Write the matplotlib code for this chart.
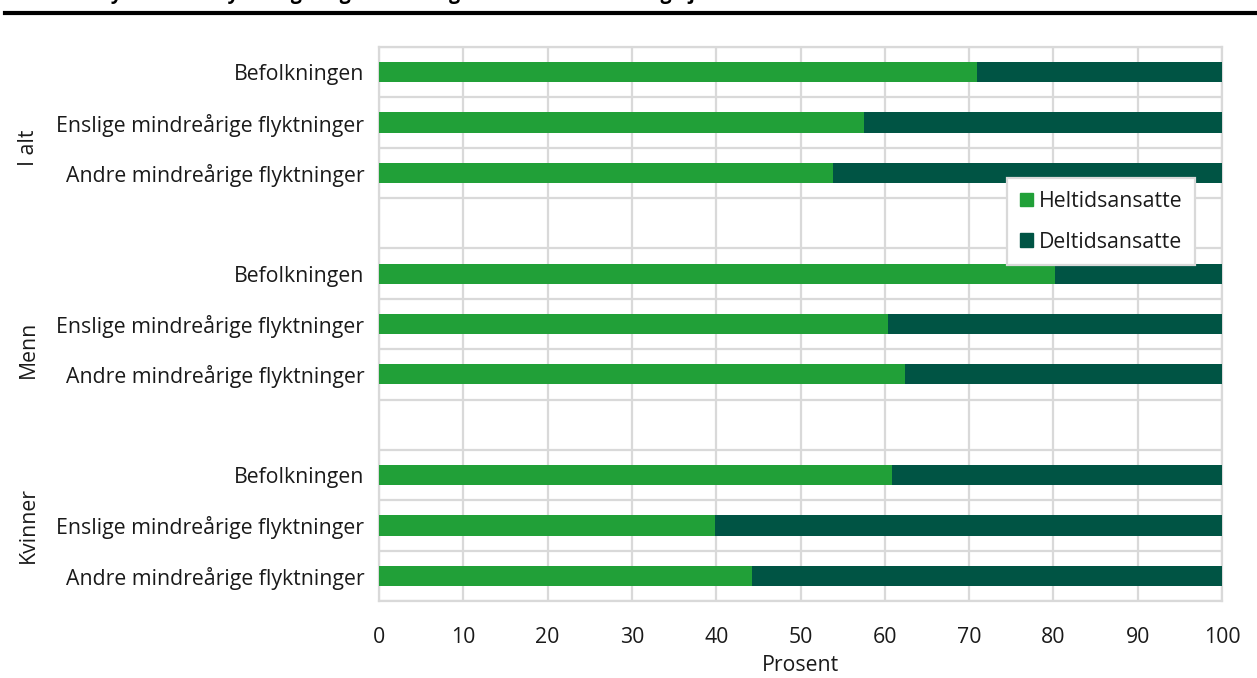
import numpy as np
import matplotlib
matplotlib.use("Agg")
import matplotlib.pyplot as plt
from matplotlib.patches import Rectangle
import matplotlib.transforms as mtransforms

plt.rcParams['font.family'] = ['Open Sans', 'DejaVu Sans']

# data (percent full-time; part-time is the rest)
groups = ["I alt", "Menn", "Kvinner"]
categories = ["Befolkningen", "Enslige mindreårige flyktninger", "Andre mindreårige flyktninger"]
heltid_ialt = [70.9, 57.5, 53.9]
heltid_menn = [80.2, 60.4, 62.4]
heltid_kvinner = [60.9, 39.9, 44.2]
series_names = ["Heltidsansatte", "Deltidsansatte"]
xticks = [0, 10, 20, 30, 40, 50, 60, 70, 80, 90, 100]

green = "#21a038"
dark = "#005444"
grid_c = "#d9d9d9"
txt_c = "#1a1a1a"
fs = 15.3

heltid_groups = [heltid_ialt, heltid_menn, heltid_kvinner]

# row positions: 3 rows per group with one empty row between groups
rows, labels, heltid = [], [], []
group_spans = []
r = 0
for gi, vals in enumerate(heltid_groups):
    start = r
    for cat, v in zip(categories, vals):
        rows.append(r); labels.append(cat); heltid.append(v)
        r += 1
    end = r if gi < len(heltid_groups) - 1 else r - 1
    group_spans.append((start, end))
    r += 1
nrows = r - 1
rows = np.array(rows)
heltid = np.array(heltid)
deltid = 100 - heltid

fig = plt.figure(figsize=(12.57, 6.78), dpi=100)
ax = fig.add_axes([379/1257, 1 - 601/678, (1222-379)/1257, (601-47)/678])

ax.barh(rows, heltid, height=0.4, color=green, zorder=3)
ax.barh(rows, deltid, left=heltid, height=0.4, color=dark, zorder=3)

ax.set_xlim(0, 100)
ax.set_ylim(nrows - 0.5, -0.5)
ax.set_xticks(xticks)
ax.set_yticks(rows)
ax.set_yticklabels(labels)
ax.set_yticks(np.arange(-0.5, nrows, 1.0), minor=True)
ax.tick_params(axis='both', which='both', length=0, labelsize=fs, colors=txt_c)
ax.tick_params(axis='y', pad=10.5)
ax.tick_params(axis='x', pad=18.5)
ax.grid(axis='x', which='major', color=grid_c, lw=1.6, zorder=0)
ax.grid(axis='y', which='minor', color=grid_c, lw=1.6, zorder=0)
ax.set_axisbelow(True)
for s in ax.spines.values():
    s.set_color(grid_c)
    s.set_linewidth(1.6)
ax.set_xlabel("Prosent", fontsize=fs, color=txt_c, labelpad=5)

# group labels on the left
trans = mtransforms.blended_transform_factory(fig.transFigure, ax.transData)
for g, (a, b) in zip(groups, group_spans):
    ax.text(28/1257, (a + b) / 2, g, transform=trans, rotation=90,
            ha='center', va='center', fontsize=fs, color=txt_c)

handles = [Rectangle((0, 0), 1, 1, color=green), Rectangle((0, 0), 1, 1, color=dark)]
leg = ax.legend(handles, series_names, loc='upper left',
                bbox_to_anchor=(1007/1257, 1 - 178/678), bbox_transform=fig.transFigure,
                borderaxespad=0, fontsize=fs, handlelength=0.6, handleheight=0.6,
                handletextpad=0.3, labelspacing=0.94, fancybox=False, framealpha=1,
                edgecolor=grid_c, borderpad=0.6)
leg.get_frame().set_linewidth(1.6)
for t in leg.get_texts():
    t.set_color(txt_c)

# title cut off at the top edge, and the rule under it
fig.text(100/1257, 1 + 1.5/678, "Sysselsatte flyktninger og befolkningen etter arbeidstid og kjønn. Prosent",
         fontsize=14, fontweight='bold', va='baseline', ha='left')
fig.add_artist(plt.Line2D([5/1257, 1], [1 - 12.5/678, 1 - 12.5/678], color='black', lw=3,
                          transform=fig.transFigure))

fig.savefig("out.png", dpi=100)
